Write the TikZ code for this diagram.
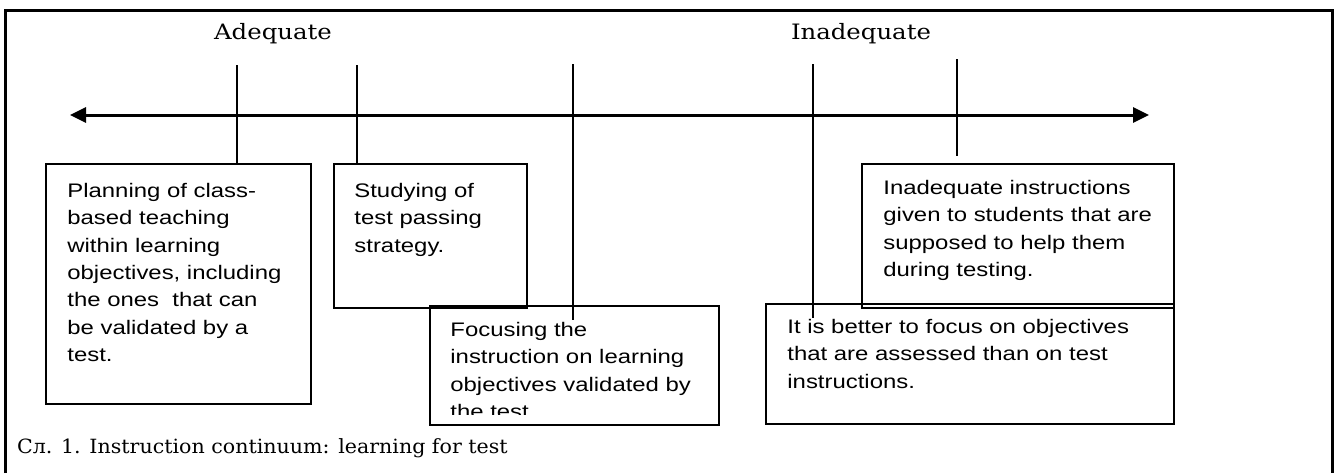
\documentclass[tikz,border=0pt]{standalone}
\usepackage{fontspec}
\setmainfont{DejaVu Serif}[FakeStretch=1.15]
\newfontfamily\captionfont{DejaVu Serif}[FakeStretch=1.05]
\newfontfamily\cardfont{Liberation Sans}[FakeStretch=1.22]
\usetikzlibrary{arrows.meta}
\tikzset{
	card/.style={draw, line width=1pt, inner sep=0pt, anchor=north west},
	cardtext/.style={inner sep=0pt, anchor=north west, align=left, font=\cardfont\fontsize{9.8pt}{13.65pt}\selectfont},
	tick/.style={line width=0.75pt},
	endlabel/.style={anchor=base, font=\fontsize{10.6pt}{12pt}\selectfont},
}
\newcommand{\Card}[2][]{\node[card, #1] (#2) {};}
\newcommand{\CardText}[3][]{\node[cardtext, #1] (#2) {#3};}

\begin{document}
\begin{tikzpicture}[x=0.5pt, y=-0.5pt]
\useasboundingbox (0,0) rectangle (1334,473);
\draw[line width=1.5pt] (5,473) -- (5,10) -- (1332,10) -- (1332,473);

\node[endlabel] (adequate) at (273,39) {Adequate};
\node[endlabel] (inadequate) at (861,39) {Inadequate};

\coordinate (west) at (70,115);
\coordinate (east) at (1149,115);
\draw[line width=1.5pt, {Triangle[length=8pt,width=7.5pt]}-{Triangle[length=8pt,width=7.5pt]}] (west) -- (east);

\Card[minimum width=132.5pt, minimum height=120pt, at={(45,163)}]{plan}
\Card[minimum width=96.5pt, minimum height=72pt, at={(333,163)}]{study}
\Card[minimum width=144.5pt, minimum height=59.5pt, at={(429,305)}]{focus}
\Card[minimum width=204pt, minimum height=60pt, at={(765,303)}]{better}
\Card[minimum width=156pt, minimum height=72pt, at={(861,163)}]{instr}

\CardText[at={(67,183)}]{plantext}{Planning of class-\\based teaching\\within learning\\objectives, including\\the ones\ \ that can\\be validated by a\\test.}
\CardText[at={(354,183)}]{studytext}{Studying of\\test passing\\strategy.}
\begin{scope}
	\clip (focus.north west) rectangle ([yshift=6pt]focus.south east);
	\CardText[at={(450,322)}]{focustext}{Focusing the\\instruction on learning\\objectives validated by\\the test}
\end{scope}
\CardText[at={(787,319)}]{bettertext}{It is better to focus on objectives\\that are assessed than on test\\instructions.}
\CardText[at={(883,180)}]{instrtext}{Inadequate instructions\\given to students that are\\supposed to help them\\during testing.}

\coordinate (t1) at (237,65);
\coordinate (t2) at (357,65);
\coordinate (t3) at (573,64);
\coordinate (t4) at (813,64);
\coordinate (t5) at (957,59);
\coordinate (e3) at (573,320);
\coordinate (e4) at (813,318);
\coordinate (e5) at (957,156);
\draw[tick] (t1) -- (t1 |- plan.north);
\draw[tick] (t2) -- (t2 |- study.north);
\draw[tick] (t3) -- (e3);
\draw[tick] (t4) -- (e4);
\draw[tick] (t5) -- (e5);

\node[anchor=base west, font=\captionfont\fontsize{9.8pt}{11pt}\selectfont] (caption) at (10,453) {Сл. 1. Instruction continuum: learning for test};
\end{tikzpicture}
\end{document}
